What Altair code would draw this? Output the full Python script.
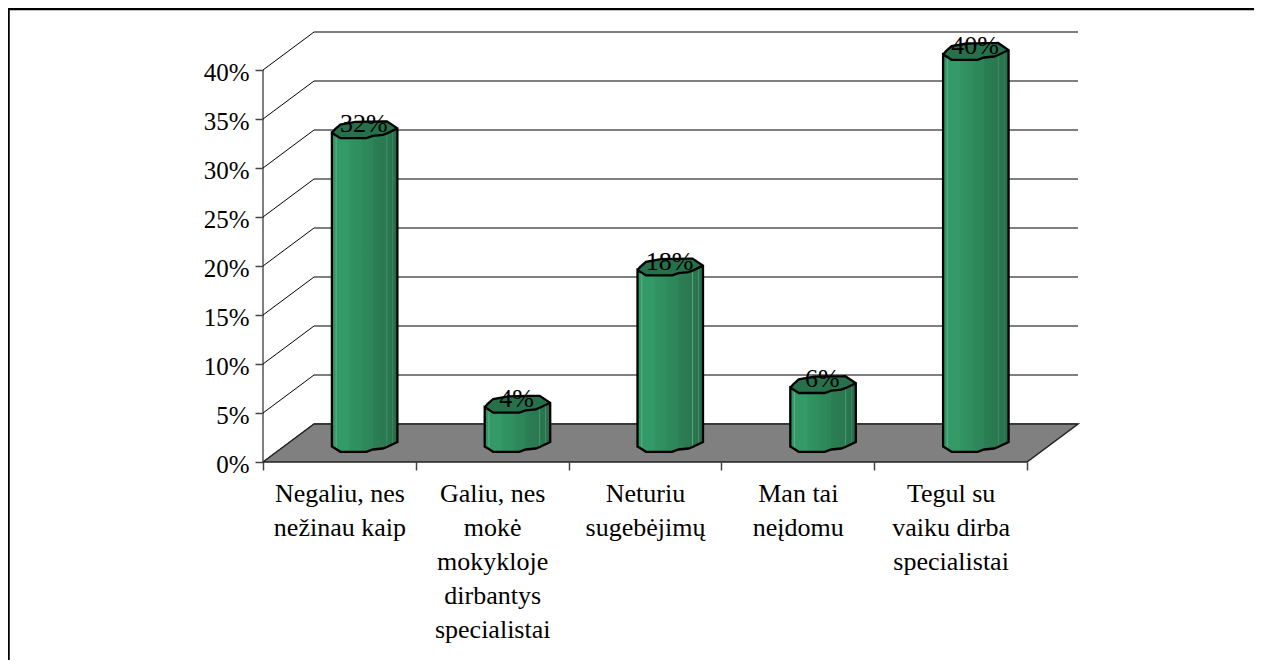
import json
import altair as alt
import pandas as pd

categories = [
    ["Negaliu, nes", "nežinau kaip"],
    ["Galiu, nes", "mokė", "mokykloje", "dirbantys", "specialistai"],
    ["Neturiu", "sugebėjimų"],
    ["Man tai", "neįdomu"],
    ["Tegul su", "vaiku dirba", "specialistai"],
]
values = [32, 4, 18, 6, 40]
ticks = [0, 5, 10, 15, 20, 25, 30, 35, 40]

# outline of the cylinder, in pixels around its centre
rim_dx = [-33, -30, -24.5, -9.5, 1.5, 8, 18, 22, 32.5]
rim_upper = [3.5, 0, -4.8, -7.5, -7.7, -7.8, -7.9, -8, -1]
rim_lower = [3.5, 5.3, 8.8, 8.8, 8.8, 6.5, 5.5, 4, -1]

W, H = 815, 430
N = len(categories)
DEPTH_X = 51 / 152.8
DEPTH_Y = 38 / 9.8
x_dom = [0, N + DEPTH_X]
y_dom = [0, 40 + DEPTH_Y]
PX = (N + DEPTH_X) / W
PY = (40 + DEPTH_Y) / H

sx = alt.Scale(domain=x_dom, nice=False, zero=False)
sy = alt.Scale(domain=y_dom, nice=False, zero=False)

FONT = "Liberation Serif"

labels_js = json.dumps(["|".join(c) for c in categories], ensure_ascii=False)
x_axis = alt.Axis(
    values=[i / 2 for i in range(2 * N + 1)],
    labelExpr=f"datum.value%1===0?'':split({labels_js}[floor(datum.value)],'|')",
    title=None, grid=False, domain=False, tickSize=8, tickColor="#444444", tickWidth=1.5,
    tickOpacity={"condition": {"test": "datum.value%1===0", "value": 1}, "value": 0},
    labelFont=FONT, labelFontSize=26, labelColor="black", labelAngle=0, labelOverlap=False,
    labelLineHeight=34, labelPadding=10, labelBaseline="top", labelAlign="center", labelBound=False, labelFlush=False,
)
y_axis = alt.Axis(
    values=ticks, labelExpr="datum.value+'%'", title=None, grid=False, domain=False,
    tickSize=8, tickColor="#444444", tickWidth=1.5, labelFont=FONT, labelFontSize=25,
    labelColor="black", labelPadding=6, labelBaseline="middle", labelOffset=2, labelOverlap=False,
    labelBound=False, labelFlush=False,
)


def X(f, **kw):
    return alt.X(f, type="quantitative", scale=sx, axis=x_axis, **kw)


def Y(f, **kw):
    return alt.Y(f, type="quantitative", scale=sy, axis=y_axis, stack=None, **kw)


# walls
walls = pd.DataFrame({"v": ticks})
walls["x0"] = 0.0
walls["x1"] = DEPTH_X
walls["x2"] = N + DEPTH_X
walls["y1"] = walls.v + DEPTH_Y
walls["top"] = max(ticks)

axes_layer = alt.Chart(walls).mark_rule(stroke="#555555", strokeWidth=1.5).encode(
    x=X("x0"), y=Y("v"), y2="top"
).transform_filter("datum.v===0")

diag = alt.Chart(walls).mark_rule(stroke="black", strokeWidth=1).encode(
    x=X("x0"), x2="x1", y=Y("v"), y2="y1"
)
back = alt.Chart(walls).mark_rule(stroke="#555555", strokeWidth=1.3).encode(
    x=X("x1"), x2="x2", y=Y("y1")
)

floor_df = pd.DataFrame({
    "x": [0, DEPTH_X, N, N + DEPTH_X],
    "lo": [0, 0, 0, DEPTH_Y],
    "hi": [0, DEPTH_Y, DEPTH_Y, DEPTH_Y],
})
floor = alt.Chart(floor_df).mark_area(color="#808080", opacity=1).encode(
    x=X("x"), y=Y("lo"), y2="hi"
)
floor_line_df = pd.DataFrame({
    "x": [0, DEPTH_X, N + DEPTH_X, N, 0],
    "y": [0, DEPTH_Y, DEPTH_Y, 0, 0],
    "o": [0, 1, 2, 3, 4],
})
floor_line = alt.Chart(floor_line_df).mark_line(color="#222222", strokeWidth=1.5).encode(
    x=X("x"), y=Y("y"), order="o:Q"
)

# cylinders
body, rim, outline = [], [], []
for i, v in enumerate(values):
    cx = i + 0.5 + DEPTH_X / 2
    top = v + DEPTH_Y / 2
    base = DEPTH_Y / 2
    for dx, up, lo in zip(rim_dx, rim_upper, rim_lower):
        x = cx + dx * PX
        body.append({"bar": i, "x": x, "a": top - lo * PY, "b": base - lo * PY})
        rim.append({"bar": i, "x": x, "a": top - up * PY, "b": top - lo * PY})
    pts = []
    for dx, up in zip(rim_dx, rim_upper):
        pts.append((cx + dx * PX, top - up * PY))
    for dx, lo in reversed(list(zip(rim_dx, rim_lower))):
        pts.append((cx + dx * PX, base - lo * PY))
    pts.append((cx + rim_dx[0] * PX, top - rim_lower[0] * PY))
    for dx, lo in zip(rim_dx, rim_lower):
        pts.append((cx + dx * PX, top - lo * PY))
    for k, (x, y) in enumerate(pts):
        outline.append({"bar": i, "x": x, "y": y, "o": k})

green_stops = [
    (0.0, "#2f9060"), (0.05, "#339966"), (0.065, "#5fb089"), (0.08, "#339966"),
    (0.25, "#349b68"), (0.26, "#319462"), (0.45, "#2f8e5e"), (0.46, "#2e8a5b"),
    (0.62, "#2d8558"), (0.63, "#2b7e54"), (0.83, "#2a7850"), (0.84, "#5a9f7e"),
    (0.85, "#2a7850"), (0.92, "#28724c"), (0.93, "#4f9372"), (0.94, "#28724c"), (1.0, "#26694a"),
]
grad = alt.Gradient(
    gradient="linear", x1=0, x2=1, y1=0, y2=0,
    stops=[alt.GradientStop(offset=o, color=c) for o, c in green_stops],
)
body_layer = alt.Chart(pd.DataFrame(body)).mark_area(fill=grad, opacity=1).encode(
    x=X("x"), y=Y("a"), y2="b", detail="bar:N"
)
rim_layer = alt.Chart(pd.DataFrame(rim)).mark_area(color="#27704c", opacity=1).encode(
    x=X("x"), y=Y("a"), y2="b", detail="bar:N"
)
outline_layer = alt.Chart(pd.DataFrame(outline)).mark_line(color="black", strokeWidth=2.3).encode(
    x=X("x"), y=Y("y"), detail="bar:N", order="o:Q"
)

label_df = pd.DataFrame({
    "x": [i + 0.5 + DEPTH_X / 2 for i in range(N)],
    "y": [v + DEPTH_Y / 2 for v in values],
    "t": [f"{v}%" for v in values],
})
value_labels = alt.Chart(label_df).mark_text(
    font=FONT, fontSize=26, color="black", baseline="alphabetic", align="center", dx=-1, dy=3
).encode(x=X("x"), y=Y("y"), text="t:N")

# border of the picture (its other two sides fall outside the frame)
border_top = alt.Chart(pd.DataFrame({"a": [0]})).mark_rule(stroke="black", strokeWidth=2.5).encode(
    x=alt.value(-255), x2=alt.value(1000), y=alt.value(-23)
)
border_left = alt.Chart(pd.DataFrame({"a": [0]})).mark_rule(stroke="black", strokeWidth=2.5).encode(
    x=alt.value(-254.5), y=alt.value(-23), y2=alt.value(640)
)

chart = alt.layer(
    axes_layer, diag, back, floor, floor_line,
    body_layer, rim_layer, outline_layer, value_labels, border_top, border_left,
).properties(
    width=W, height=H,
    padding={"left": 255, "top": 24, "right": 176, "bottom": 198},
    autosize=alt.AutoSizeParams(type="none"),
    background="white",
).configure_view(stroke=None)

chart.save("out.html", embed_options={"renderer": "svg", "actions": False})
